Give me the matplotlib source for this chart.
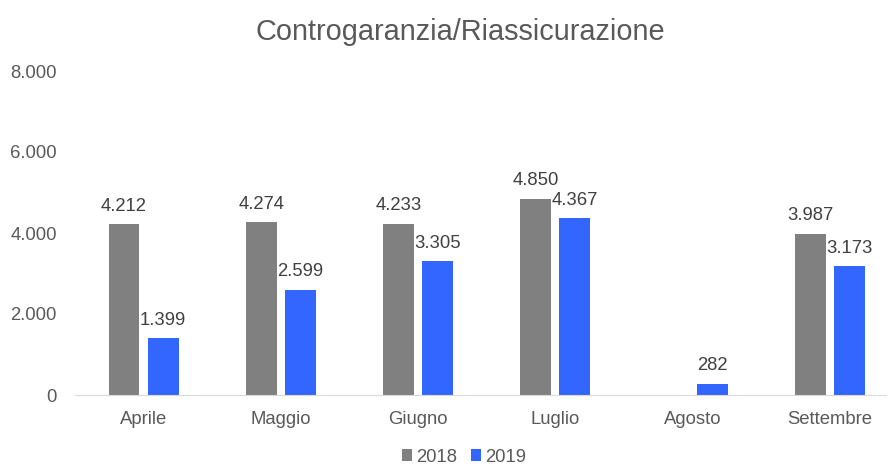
import numpy as np
import matplotlib.pyplot as plt
from matplotlib.ticker import FuncFormatter

plt.rcParams['font.family'] = ['Liberation Sans', 'DejaVu Sans']

#data
mesi = ['Aprile', 'Maggio', 'Giugno', 'Luglio', 'Agosto', 'Settembre']
v2018 = [4212, 4274, 4233, 4850, 0, 3987]
v2019 = [1399, 2599, 3305, 4367, 282, 3173]
lab2018 = ['4.212', '4.274', '4.233', '4.850', '', '3.987']
lab2019 = ['1.399', '2.599', '3.305', '4.367', '282', '3.173']

txt = '#595959'
fs = 13.3

fig = plt.figure(figsize=(8.88, 4.66), dpi=100)
ax = fig.add_axes([75/888, 71/466, 811/888, 324/466])

x = np.arange(len(mesi))
w = 0.225
off = 0.143
b1 = ax.bar(x - off, v2018, w, color='#808080', label='2018')
b2 = ax.bar(x + off, v2019, w, color='#3366FF', label='2019')

#labels on bars
for i in range(len(mesi)):
  if lab2018[i] != '':
    ax.text(x[i] - off, v2018[i] + 230, lab2018[i], ha='center', va='bottom', fontsize=fs, color='#404040')
  ax.text(x[i] + off, v2019[i] + 230, lab2019[i], ha='center', va='bottom', fontsize=fs, color='#404040')

ax.set_ylim(0, 8000)
ax.set_xlim(-0.5, 5.41)
ax.set_yticks([0, 2000, 4000, 6000, 8000])
ax.yaxis.set_major_formatter(FuncFormatter(lambda v, p: '{:,.0f}'.format(v).replace(',', '.')))
ax.set_xticks(x)
ax.set_xticklabels(mesi)
ax.tick_params(axis='both', length=0, labelsize=fs, colors=txt)
ax.tick_params(axis='x', pad=11.5)
ax.tick_params(axis='y', pad=13)

for s in ['top', 'right', 'left']:
  ax.spines[s].set_visible(False)
ax.spines['bottom'].set_color('#D9D9D9')

fig.text(460/888, 1 - 32/466, 'Controgaranzia/Riassicurazione', fontsize=20.8, color=txt, ha='center', va='center')

leg = fig.legend(handles=[b1, b2], loc='center', bbox_to_anchor=(464/888, 1 - 457/466), ncol=2, frameon=False,
                 fontsize=fs, handlelength=0.55, handleheight=0.55, handletextpad=0.2, columnspacing=0.75,
                 borderpad=0)
for t in leg.get_texts():
  t.set_color(txt)

fig.savefig('out.png', dpi=100)
